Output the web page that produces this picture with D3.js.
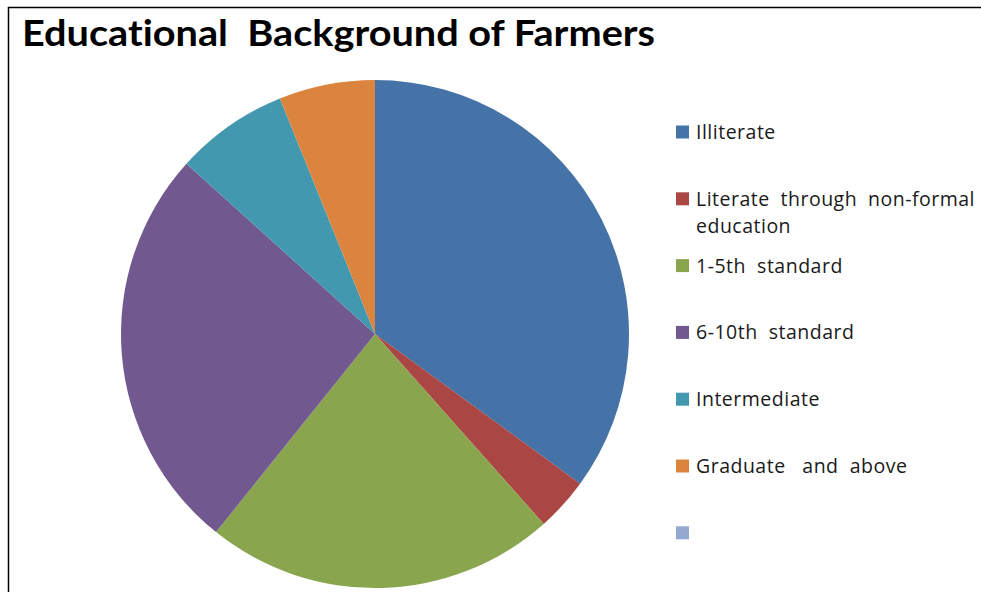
<!DOCTYPE html>
<html>
<head>
<meta charset="utf-8">
<script src="https://cdn.jsdelivr.net/npm/d3@7"></script>
<style>
  html, body { margin: 0; padding: 0; background: #fff; }
  svg { display: block; }
  text { white-space: pre; font-variant-ligatures: none; }
</style>
</head>
<body>
<svg id="chart" width="981" height="592"></svg>
<script>
// Share of farmers (%) by educational level
const categories = [
  "Illiterate",
  "Literate through non-formal education",
  "1-5th  standard",
  "6-10th  standard",
  "Intermediate",
  "Graduate   and  above",
  ""
];
const values = [35.0, 3.4, 22.3, 25.9, 7.2, 6.1, 0];
const colors = ["#4572A7", "#AA4643", "#89A54E", "#71588F", "#4198AF", "#DB843D", "#93A9CF"];
const title = "Educational  Background of Farmers";

const svg = d3.select("#chart");
const W = 981, H = 592;

// frame
svg.append("path")
  .attr("d", `M8.5,${H} V7.5 H${W}`)
  .attr("fill", "none")
  .attr("stroke", "#000")
  .attr("stroke-width", 1.5);

// title
svg.append("text")
  .attr("x", 22)
  .attr("y", 46)
  .attr("font-family", "Lato, 'Open Sans', sans-serif")
  .attr("font-weight", "bold")
  .attr("font-size", 37)
  .attr("fill", "#000")
  .attr("textLength", 633)
  .attr("lengthAdjust", "spacingAndGlyphs")
  .text(title);

// pie
const cx = 375, cy = 334, r = 254;
const data = categories.map((c, i) => ({ name: c, value: values[i], color: colors[i] }));
const pie = d3.pie().value(d => d.value).sort(null);
const arc = d3.arc().innerRadius(0).outerRadius(r);

svg.append("g")
  .attr("transform", `translate(${cx},${cy})`)
  .selectAll("path")
  .data(pie(data).filter(d => d.data.value > 0))
  .join("path")
  .attr("d", arc)
  .attr("fill", d => d.data.color);

// legend
const legendX = 676, textX = 696, rightEdge = 975;
const y0 = 132, step = 66.8, sw = 13;
const base = {
  "font-family": "'Open Sans', Lato, sans-serif",
  "font-size": 19.5,
  "letter-spacing": 0.5,
  fill: "#1a1a1a"
};

const lg = svg.append("g");
const addText = (x, y, s) => {
  const t = lg.append("text").attr("x", x).attr("y", y).text(s);
  Object.entries(base).forEach(([k, v]) => t.attr(k, v));
  return t;
};

data.forEach((d, i) => {
  const y = y0 + i * step;
  lg.append("rect")
    .attr("x", legendX)
    .attr("y", y - sw / 2)
    .attr("width", sw)
    .attr("height", sw)
    .attr("fill", d.color);

  if (!d.name) return;
  if (d.name.startsWith("Literate through")) {
    // wrapped label, first line justified to the right edge
    const words = ["Literate", "through", "non-formal"];
    const nodes = words.map(w => addText(0, y + 7, w));
    const widths = nodes.map(n => n.node().getComputedTextLength());
    const gap = (rightEdge - textX - d3.sum(widths)) / (words.length - 1);
    let x = textX;
    nodes.forEach((n, j) => { n.attr("x", x); x += widths[j] + gap; });
    addText(textX, y + 7 + 27.5, "education");
  } else {
    addText(textX, y + 7, d.name);
  }
});
</script>
</body>
</html>
